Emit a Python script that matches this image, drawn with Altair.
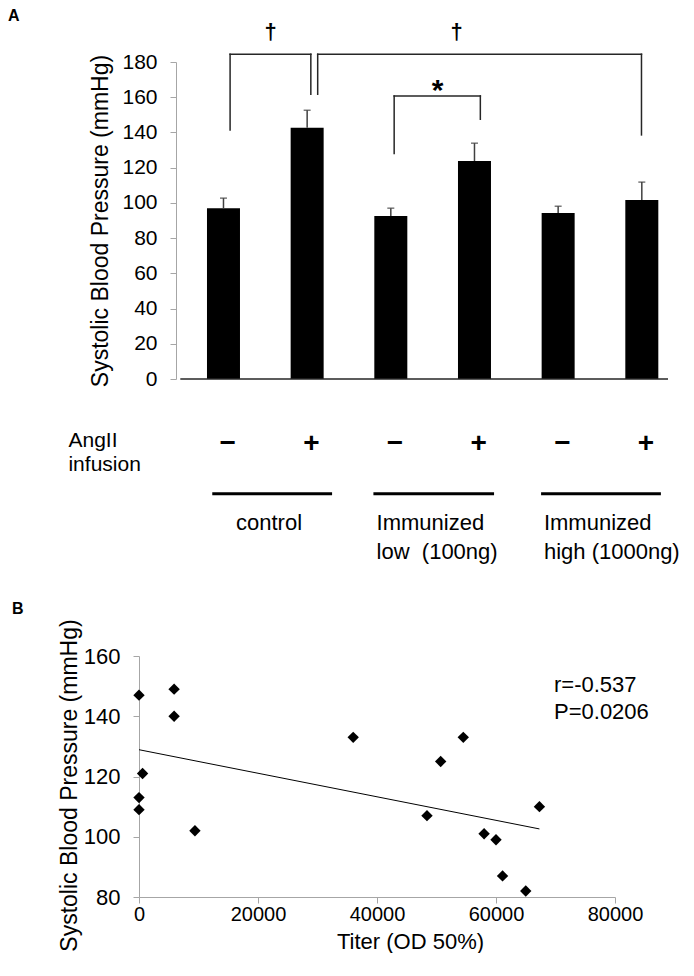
import altair as alt
import pandas as pd

FONT = "Liberation Sans, Arial, sans-serif"

# ---------------- Panel A data ----------------
bar_index = [1, 2, 3, 4, 5, 6]
bar_mean = [97.0, 142.6, 92.6, 123.8, 94.2, 101.6]
bar_sem = [5.7, 10.0, 4.4, 10.1, 3.9, 10.2]
angii_sign = ["−", "+", "−", "+", "−", "+"]
group_line1 = ["control", "Immunized", "Immunized"]
group_line2 = ["", "low\u00a0 (100ng)", "high (1000ng)"]
sig_symbols = ["†", "†", "*"]

# annotation anchors in data units (x: bar index, y: mmHg)
bracket_left = [1.079, 2.126, 3.04]
bracket_right = [2.044, 5.996, 4.07]
bracket_top = [184.4, 184.4, 160.7]
bracket_left_foot = [141.4, 161.7, 128.0]
bracket_right_foot = [161.7, 138.6, 147.5]
sig_x = [1.563, 3.788, 3.56]
sig_y = [192.9, 192.9, 158.5]
group_start = [0.866, 2.792, 4.796]
group_end = [2.298, 4.234, 6.228]
group_text_x = [1.15, 2.83, 4.83]

# ---------------- Panel B data ----------------
titer = [0, 0, 0, 600, 5900, 5900, 9400, 36000, 48400, 50700, 54500, 58000, 60000, 61100, 65000, 67300]
sbp = [147, 113, 109, 121, 149, 140, 102, 133, 107, 125, 133, 101, 99, 87, 82, 110]
stat_lines = ["r=-0.537", "P=0.0206"]
stat_x = [69750, 69750]
stat_y = [150.5, 141.5]

# ---------------- Panel A ----------------
xs = alt.Scale(domain=[0.05, 6.313], nice=False, zero=False)
ys = alt.Scale(domain=[0, 180], nice=False)

ay = alt.Axis(
    values=list(range(0, 181, 20)), offset=-37,
    domainColor="#a6a6a6", tickColor="#a6a6a6", tickSize=6,
    labelPadding=13, labelFontSize=21, labelColor="black", grid=False,
    title="Systolic Blood Pressure (mmHg)", titleFontSize=23,
    titleFontWeight="normal", titleColor="black", titleX=-69,
    titleBaseline="alphabetic")

X = lambda f: alt.X(f, type="quantitative", scale=xs, axis=None)
Y = lambda f: alt.Y(f, type="quantitative", scale=ys, axis=ay)

bars_df = pd.DataFrame({
    "pos": bar_index,
    "mean": bar_mean,
    "top": [m + s for m, s in zip(bar_mean, bar_sem)],
    "sign": angii_sign,
    "signpos": [p + 0.05 for p in bar_index],
    "signy": [-37.0] * 6,
})

bars = alt.Chart(bars_df).mark_bar(size=33, color="black").encode(
    x=X("pos"), y=Y("mean"))
err = alt.Chart(bars_df).mark_rule(color="#404040", strokeWidth=1.5).encode(
    x=X("pos"), y=Y("mean"), y2="top:Q")
caps = alt.Chart(bars_df).mark_tick(orient="horizontal", size=7, thickness=1.5,
                                    color="#404040").encode(x=X("pos"), y=Y("top"))

base_df = pd.DataFrame({"x0": [0.484], "x1": [6.313], "y0": [0.0]})
baseline = alt.Chart(base_df).mark_rule(color="#262626", strokeWidth=1.5).encode(
    x=X("x0"), x2="x1:Q", y=Y("y0"))

seg_rows = []
for l, r, t, lf, rf in zip(bracket_left, bracket_right, bracket_top,
                           bracket_left_foot, bracket_right_foot):
    seg_rows.append({"x0": l, "x1": l, "y0": lf, "y1": t})
    seg_rows.append({"x0": l, "x1": r, "y0": t, "y1": t})
    seg_rows.append({"x0": r, "x1": r, "y0": rf, "y1": t})
seg_df = pd.DataFrame(seg_rows)
brackets = alt.Chart(seg_df).mark_rule(color="#262626", strokeWidth=1.5,
                                       strokeCap="square").encode(
    x=X("x0"), x2="x1:Q", y=Y("y0"), y2="y1:Q")

sig_df = pd.DataFrame({"x": sig_x, "y": sig_y, "s": sig_symbols})
daggers = alt.Chart(sig_df.iloc[:2]).mark_text(
    fontSize=22, fontWeight="bold", baseline="alphabetic", color="black").encode(
    x=X("x"), y=Y("y"), text="s:N")
star = alt.Chart(sig_df.iloc[2:]).mark_text(
    fontSize=30, fontWeight="bold", baseline="alphabetic", color="black").encode(
    x=X("x"), y=Y("y"), text="s:N")

signs = alt.Chart(bars_df).mark_text(fontSize=28, fontWeight="bold",
                                     baseline="middle", color="black").encode(
    x=X("signpos"), y=Y("signy"), text="sign:N")

angii_df = pd.DataFrame({"x": [-0.853, -0.853], "y": [-35.0, -48.6],
                         "t": ["AngII", "infusion"]})
angii = alt.Chart(angii_df).mark_text(fontSize=21, align="left", baseline="middle",
                                      color="black").encode(
    x=X("x"), y=Y("y"), text="t:N")

gl_df = pd.DataFrame({"x0": group_start, "x1": group_end, "y0": [-65.2] * 3})
group_lines = alt.Chart(gl_df).mark_rule(color="black", strokeWidth=3).encode(
    x=X("x0"), x2="x1:Q", y=Y("y0"))

gt_df = pd.DataFrame({
    "x": group_text_x * 2,
    "y": [-81.5] * 3 + [-98.5] * 3,
    "t": group_line1 + group_line2,
})
group_text = alt.Chart(gt_df).mark_text(fontSize=22, align="left", baseline="middle",
                                        color="black").encode(
    x=X("x"), y=Y("y"), text="t:N")

label_a = alt.Chart(base_df).mark_text(fontSize=16, fontWeight="bold", align="left",
                                       baseline="middle", color="black").encode(
    x=alt.value(-131), y=alt.value(-46), text=alt.value("A"))

panel_a = alt.layer(bars, err, caps, baseline, brackets, daggers, star, signs,
                    angii, group_lines, group_text, label_a).properties(
    width=534, height=317)

# ---------------- Panel B ----------------
bx = alt.Scale(domain=[0, 80000], nice=False)
by = alt.Scale(domain=[80, 160], nice=False, zero=False)

bxa = alt.Axis(
    values=[0, 20000, 40000, 60000, 80000], format="d", labelFlush=False,
    labelOverlap=False, domainColor="#a6a6a6", tickColor="#a6a6a6",
    tickSize=6, labelPadding=1, labelFontSize=20, labelColor="black",
    grid=False, title="Titer (OD 50%)", titleFontSize=22,
    titleFontWeight="normal", titleColor="black", titleX=271, titleY=51.6,
    titleBaseline="alphabetic", titleAlign="center")
bya = alt.Axis(
    values=[80, 100, 120, 140, 160], domainColor="#a6a6a6",
    tickColor="#a6a6a6", tickSize=6, labelPadding=13, labelFontSize=22,
    labelColor="black", grid=False,
    title="Systolic Blood Pressure (mmHg)", titleFontSize=23,
    titleFontWeight="normal", titleColor="black", titleX=-63, titleY=129,
    titleBaseline="alphabetic", titleAlign="center")

BX = lambda f: alt.X(f, type="quantitative", scale=bx, axis=bxa)
BY = lambda f: alt.Y(f, type="quantitative", scale=by, axis=bya)

b_df = pd.DataFrame({"titer": titer, "sbp": sbp})

pts = alt.Chart(b_df).mark_point(shape="diamond", filled=True, size=130,
                                 color="black", opacity=1).encode(
    x=BX("titer"), y=BY("sbp"))
fit = alt.Chart(b_df).transform_regression("titer", "sbp").mark_line(
    color="black", strokeWidth=1).encode(x=BX("titer"), y=BY("sbp"))

st_df = pd.DataFrame({"x": stat_x, "y": stat_y, "t": stat_lines})
stats = alt.Chart(st_df).mark_text(fontSize=22, align="left", baseline="middle",
                                   color="black").encode(
    x=BX("x"), y=BY("y"), text="t:N")

label_b = alt.Chart(base_df).mark_text(fontSize=16, fontWeight="bold", align="left",
                                       baseline="middle", color="black").encode(
    x=alt.value(-127), y=alt.value(-47), text=alt.value("B"))

panel_b = alt.layer(pts, fit, stats, label_b).properties(width=476, height=241)

chart = alt.vconcat(panel_a, panel_b, spacing=37).properties(
    padding={"left": 0, "top": 0, "right": 0, "bottom": 0}
).configure(font=FONT).configure_view(stroke=None)

chart.save("out.html", embed_options={"renderer": "svg", "actions": False})
